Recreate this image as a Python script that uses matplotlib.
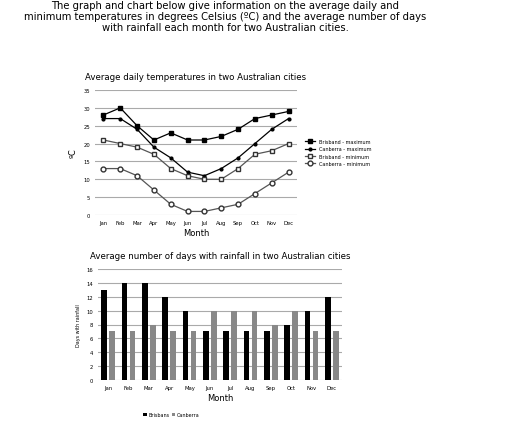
import matplotlib.pyplot as plt
import numpy as np

months = ["Jan","Feb","Mar","Apr","May","Jun","Jul","Aug","Sep","Oct","Nov","Dec"]
bris_max = [28,30,25,21,23,21,21,22,24,27,28,29]
can_max = [27,27,24,19,16,12,11,13,16,20,24,27]
bris_min = [21,20,19,17,13,11,10,10,13,17,18,20]
can_min = [13,13,11,7,3,1,1,2,3,6,9,12]
bris_rain = [13,14,14,12,10,7,7,7,7,8,10,12]
can_rain = [7,7,8,7,7,10,10,10,8,10,7,7]

W, H = 512, 427
fig = plt.figure(figsize=(W/100, H/100), dpi=100)
fig.text(0.44, 0.997, "The graph and chart below give information on the average daily and\nminimum temperatures in degrees Celsius (ºC) and the average number of days\nwith rainfall each month for two Australian cities.",
         ha='center', va='top', fontsize=7.2, linespacing=1.1)

def ax_rect(x0, y0, x1, y1):
    return [x0/W, 1-y1/H, (x1-x0)/W, (y1-y0)/H]

ax1 = fig.add_axes(ax_rect(95, 91, 297, 216))
x = np.arange(12)
ax1.plot(x, bris_max, '-s', color='black', ms=3.5, lw=0.9, label='Brisband - maximum')
ax1.plot(x, can_max, '-o', color='black', ms=2, lw=0.9, label='Canberra - maximum')
ax1.plot(x, bris_min, '-s', color='#555555', mfc='white', mec='#333333', ms=3.5, lw=0.9, label='Brisband - minimum')
ax1.plot(x, can_min, '-o', color='#555555', mfc='white', mec='#333333', ms=3.5, lw=0.9, label='Canberra - minimum')
ax1.set_ylim(0, 35)
ax1.set_yticks(range(0, 36, 5))
ax1.set_xlim(-0.5, 11.5)
ax1.set_xticks(x)
ax1.set_xticklabels(months)
ax1.tick_params(labelsize=3.8, length=0)
ax1.grid(axis='y', color='#aaaaaa', lw=0.8)
ax1.set_axisbelow(True)
for s in ax1.spines.values():
    s.set_visible(False)
ax1.set_ylabel("ºC", fontsize=6)
ax1.set_xlabel("Month", fontsize=6, labelpad=2)
ax1.set_title("Average daily temperatures in two Australian cities", fontsize=6.2, pad=8)
ax1.legend(loc='center left', bbox_to_anchor=(1.02, 0.5), fontsize=3.5, frameon=False, handlelength=2)

ax2 = fig.add_axes(ax_rect(98, 270, 342, 381))
w = 0.27
ax2.bar(x - 0.2, bris_rain, w, color='black', label='Brisbans')
ax2.bar(x + 0.2, can_rain, w, color='#888888', label='Canberra')
ax2.set_ylim(0, 16)
ax2.set_yticks(range(0, 17, 2))
ax2.set_xlim(-0.5, 11.5)
ax2.set_xticks(x)
ax2.set_xticklabels(months)
ax2.tick_params(labelsize=3.8, length=0)
ax2.grid(axis='y', color='#aaaaaa', lw=0.8)
ax2.set_axisbelow(True)
for s in ax2.spines.values():
    s.set_visible(False)
ax2.set_ylabel("Days with rainfall", fontsize=3.5)
ax2.set_xlabel("Month", fontsize=6, labelpad=2)
ax2.set_title("Average number of days with rainfall in two Australian cities", fontsize=6.2, pad=8)
ax2.legend(loc='upper center', bbox_to_anchor=(0.3, -0.25), ncol=2, fontsize=3.5, frameon=False,
           handlelength=0.8, columnspacing=0.5, handletextpad=0.2)

fig.savefig("out.png", dpi=100)
